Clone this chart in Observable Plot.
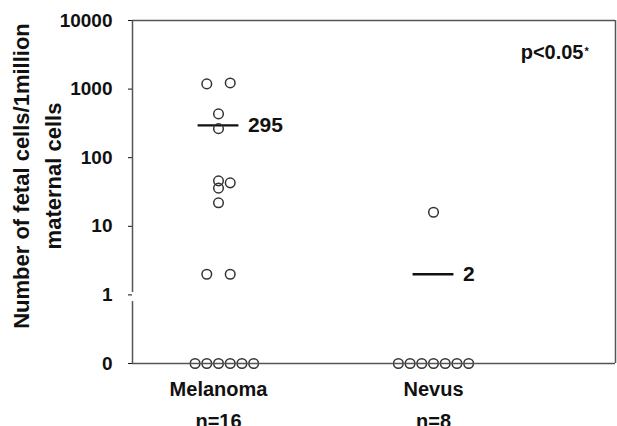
<!DOCTYPE html>
<html>
<head>
<meta charset="utf-8">
<script src="https://cdn.jsdelivr.net/npm/d3@7"></script>
<script src="https://cdn.jsdelivr.net/npm/@observablehq/plot@0.6"></script>
<style>
  body { margin: 0; background: #fff; }
  #chart svg { display: block; }
  g[aria-label="category"] text, g[aria-label="count"] text { letter-spacing: 2px; }
  g[aria-label="pvalue"] text { letter-spacing: 1.5px; }
  g[aria-label="median-label"] text { letter-spacing: 1px; }
</style>
</head>
<body>
<div id="chart"></div>
<script>
// ---- data ----
const categories = ["Melanoma", "Nevus"];
const counts = ["n=16", "n=8"];
const categoryPos = [1, 2];
const melanomaValues = [1190, 1230, 435, 265, 46, 36, 43, 22, 2, 2, 0, 0, 0, 0, 0, 0];
const melanomaJitter = [-1, 1, 0, 0, 0, 0, 1, 0, -1, 1, -2, -1, 0, 1, 2, 3];
const nevusValues = [16, 0, 0, 0, 0, 0, 0, 0];
const nevusJitter = [0, -3, -2, -1, 0, 1, 2, 3];
const medians = [295, 2];
const medianLabels = ["295", "2"];
const yTickValues = [0, 1, 10, 100, 1000, 10000];
const yTitle = ["Number of fetal cells/1million", "maternal cells"];
const pText = "p<0.05";

// ---- scale settings ----
const ZERO_AT = 0.1;           // zero drawn one decade below 1 (broken log axis)
const JITTER_STEP = 0.0545;    // spacing between side-by-side dots (x units)
const MEDIAN_HALF = 0.095;     // half-width of median bar (x units)
const xDomain = [0.6, 2.8465];
const yDomain = [ZERO_AT, 10000];
const axisBreak = [[10000, 1.08], [0.8, ZERO_AT]];
const axisColor = "#555";

const toY = v => (v === 0 ? ZERO_AT : v);
const points = [];
melanomaValues.forEach((v, i) => points.push({cat: 0, v, j: melanomaJitter[i]}));
nevusValues.forEach((v, i) => points.push({cat: 1, v, j: nevusJitter[i]}));
const medianRows = medians.map((m, i) => ({pos: categoryPos[i], m, label: medianLabels[i]}));
const catRows = categories.map((c, i) => ({pos: categoryPos[i], c, n: counts[i]}));
const breakRows = axisBreak.map(([a, b]) => ({a, b}));

const chart = Plot.plot({
  width: 617,
  height: 426,
  marginLeft: 132,
  marginRight: 2,
  marginTop: 20,
  marginBottom: 63,
  style: {fontFamily: "'Liberation Sans', Arial, sans-serif", fontSize: "19px", fontWeight: "bold", color: "#111", background: "#fff"},
  x: {domain: xDomain, axis: null},
  y: {
    type: "log",
    domain: yDomain,
    ticks: yTickValues.map(toY),
    tickFormat: d => (d === ZERO_AT ? "0" : String(d)),
    tickSize: 4,
    tickPadding: 16,
    label: null,
    line: false
  },
  marks: [
    // median bars and labels
    Plot.ruleY(medianRows, {y: "m", x1: d => d.pos - MEDIAN_HALF, x2: d => d.pos + MEDIAN_HALF, stroke: "#111", strokeWidth: 2.3}),
    Plot.text(medianRows, {x: d => d.pos + MEDIAN_HALF, y: "m", text: "label", dx: 9, textAnchor: "start", fontSize: 21, fontWeight: "bold", fill: "#111", ariaLabel: "median-label"}),
    // dots
    Plot.dot(points, {
      x: d => categoryPos[d.cat] + d.j * JITTER_STEP,
      y: d => toY(d.v),
      r: 4.8,
      stroke: "#333",
      strokeWidth: 1.5,
      fill: "none"
    }),
    // category labels
    Plot.text(catRows, {x: "pos", frameAnchor: "bottom", text: "c", dy: 32, fontSize: 20, fontWeight: "bold", fill: "#111", ariaLabel: "category"}),
    Plot.text(catRows, {x: "pos", frameAnchor: "bottom", text: "n", dy: 64, fontSize: 20, fontWeight: "bold", fill: "#111", ariaLabel: "count"}),
    // y title (two lines)
    Plot.text([yTitle[0]], {frameAnchor: "left", text: d => d, rotate: -90, textAnchor: "middle", dx: -111, dy: -16, fontSize: 22, fontWeight: "bold", fill: "#111"}),
    Plot.text([yTitle[1]], {frameAnchor: "left", text: d => d, rotate: -90, textAnchor: "middle", dx: -79, dy: -16, fontSize: 22, fontWeight: "bold", fill: "#111"}),
    // p-value annotation
    Plot.text([pText], {frameAnchor: "top-right", text: d => d, textAnchor: "end", lineAnchor: "middle", dx: -32, dy: 32, fontSize: 20, fontWeight: "bold", fill: "#111", ariaLabel: "pvalue"}),
    Plot.text(["*"], {frameAnchor: "top-right", text: d => d, textAnchor: "start", lineAnchor: "middle", dx: -31, dy: 31, fontSize: 11, fontWeight: "bold", fill: "#111"}),
    // frame: top, right, bottom, and left axis with a break between 1 and 0 (drawn last)
    Plot.ruleY([10000], {stroke: axisColor, strokeWidth: 1.5}),
    Plot.ruleY([ZERO_AT], {stroke: axisColor, strokeWidth: 1.5}),
    Plot.ruleX([xDomain[1]], {y1: yDomain[0], y2: yDomain[1], stroke: axisColor, strokeWidth: 1.5}),
    Plot.ruleX(breakRows, {x: () => xDomain[0], y1: "a", y2: "b", stroke: axisColor, strokeWidth: 1.5})
  ]
});
document.getElementById("chart").appendChild(chart);
</script>
</body>
</html>
